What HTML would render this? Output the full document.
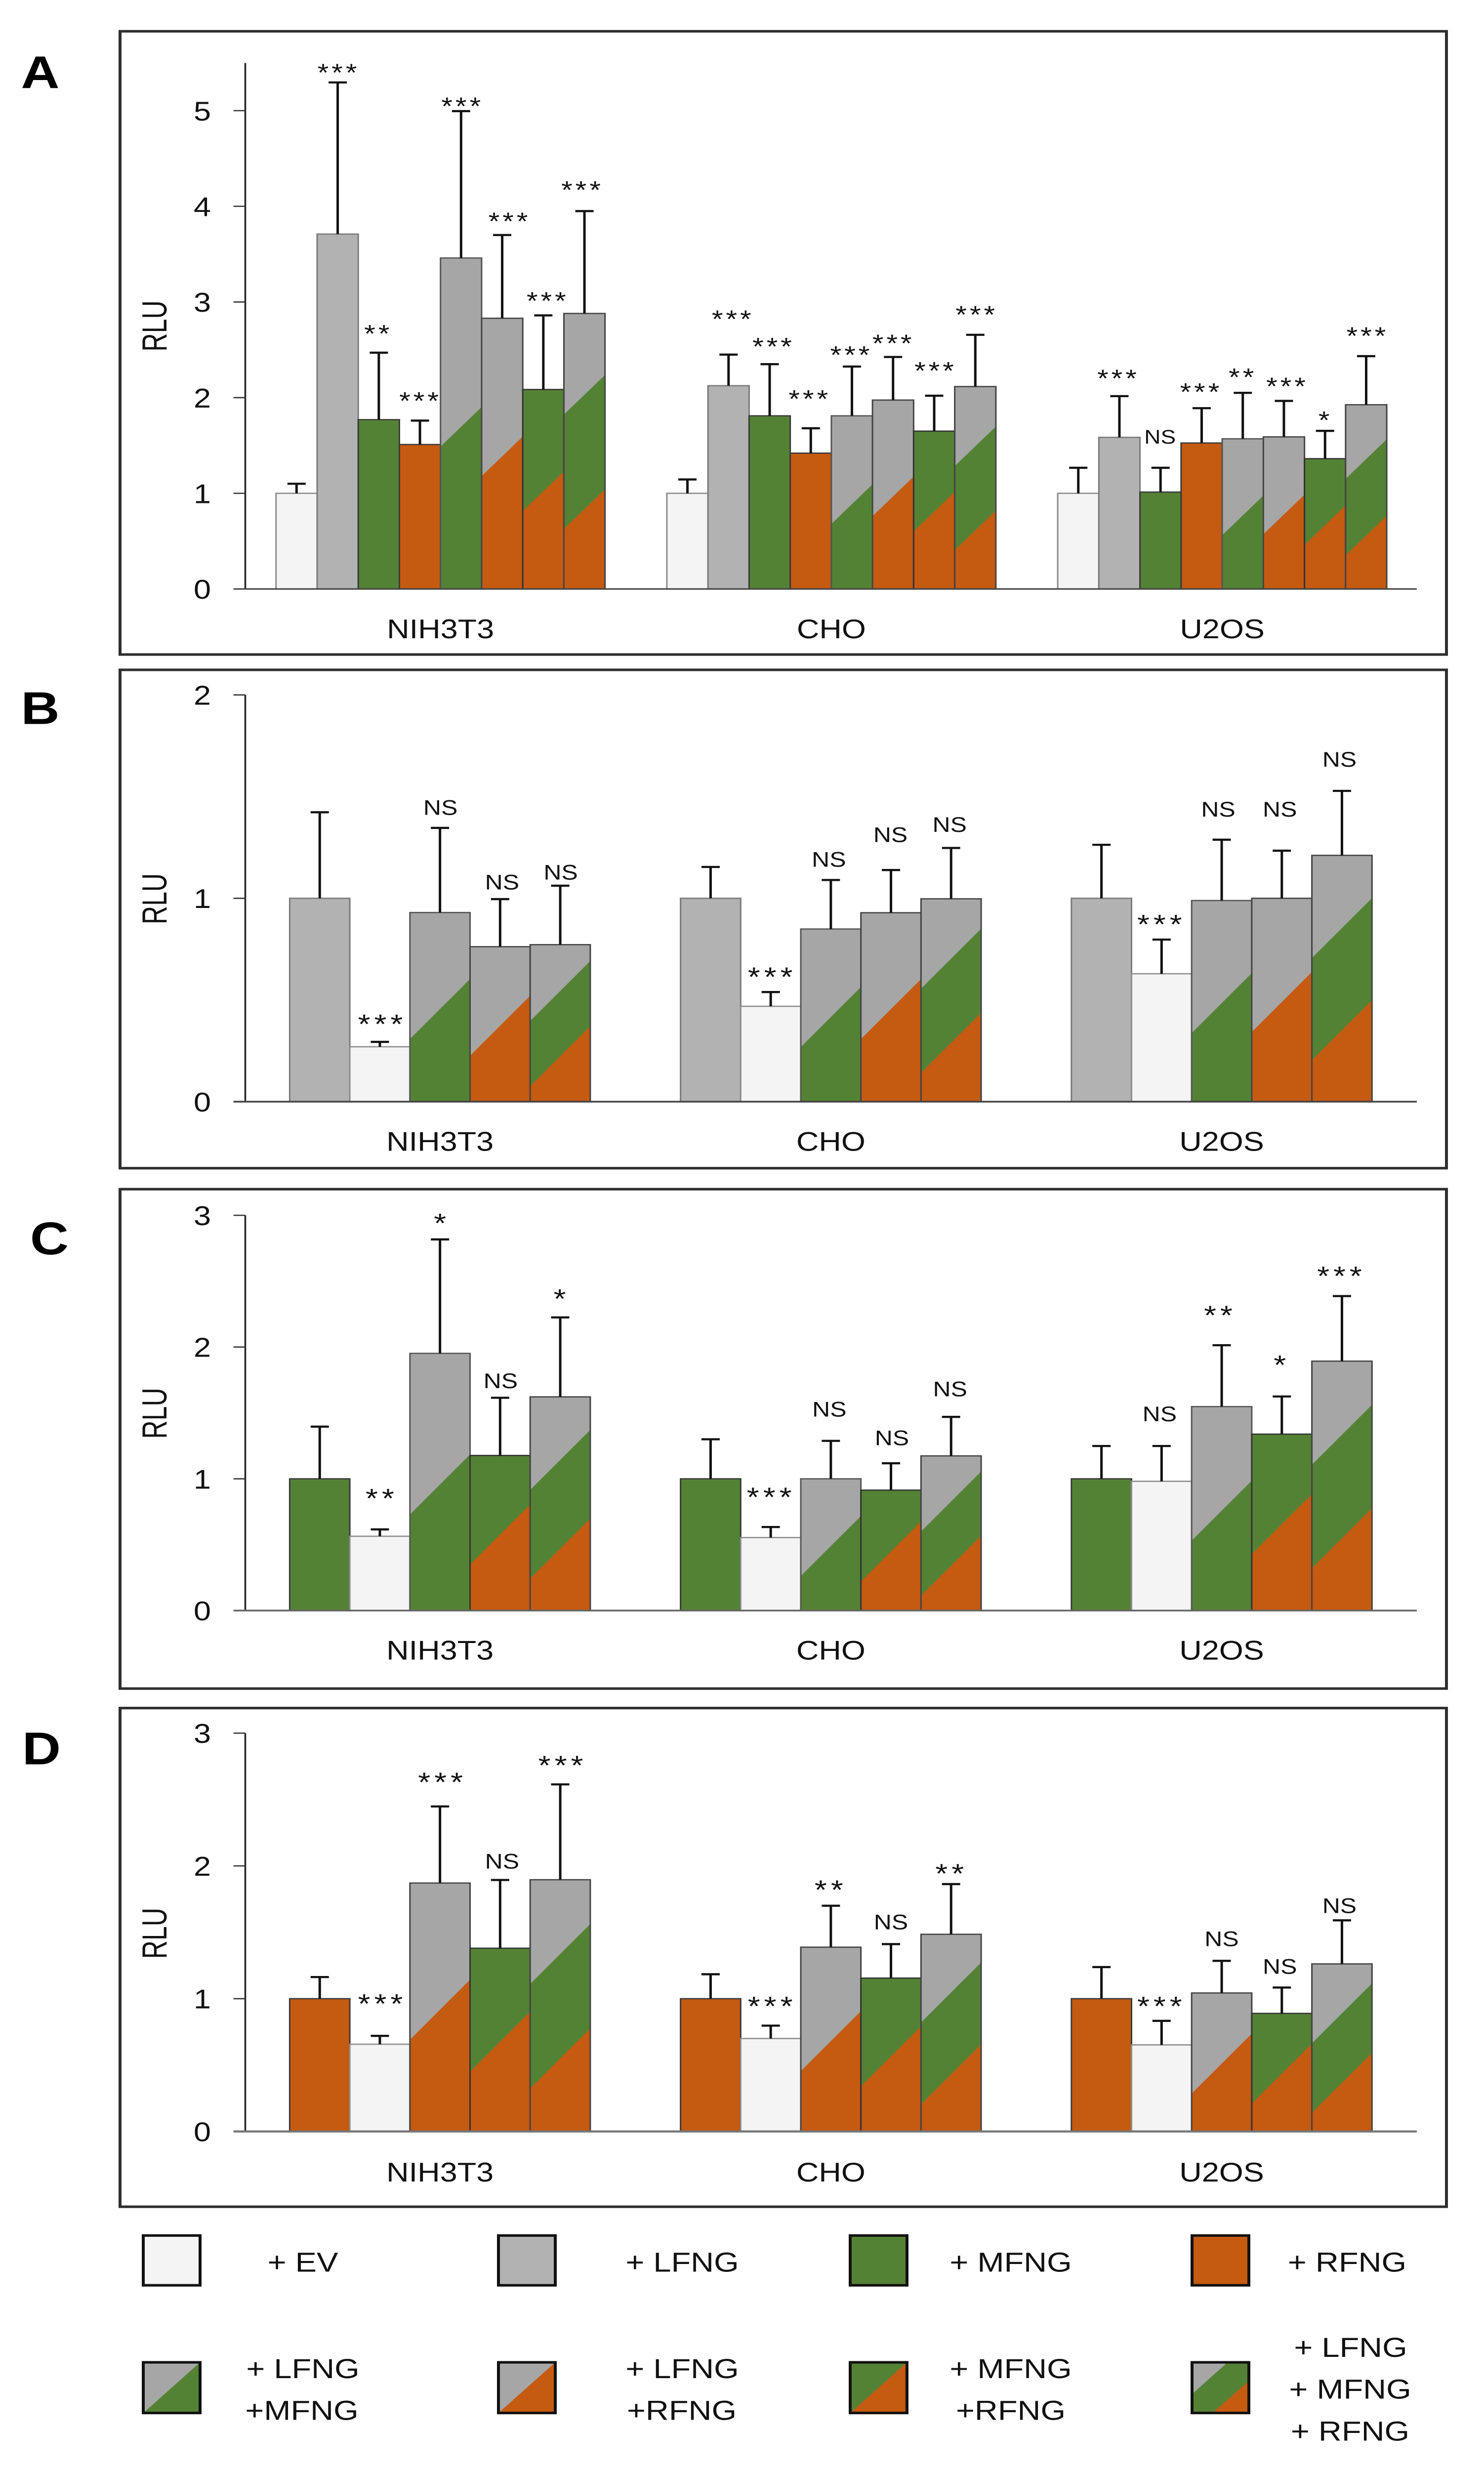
<!DOCTYPE html>
<html lang="en">
<head>
<meta charset="utf-8">
<title>RLU by fringe treatment and cell line</title>
<style>
html,body{margin:0;padding:0;background:#fff;height:100%;overflow:hidden}
svg{display:block;width:100vw;height:100vh;font-family:"Liberation Sans",sans-serif}
</style>
</head>
<body>
<svg id="figure" xmlns="http://www.w3.org/2000/svg" viewBox="0 0 3004 5804" preserveAspectRatio="none">
  <rect x="0" y="0" width="3004" height="5804" fill="#ffffff"/>
  <g id="panels"></g>

  <g font-weight="700" font-size="108" fill="#000" text-anchor="middle">
    <text x="81.5" y="207">A</text>
    <text x="81.5" y="1701">B</text>
    <text x="100" y="2947">C</text>
    <text x="84" y="4146">D</text>
  </g>

  <g font-size="65" fill="#111" text-anchor="middle">
    <g>
      <rect x="290" y="5253" width="115" height="117" fill="#f4f4f4" stroke="#111" stroke-width="6"/>
      <text x="613" y="5338">+ EV</text>
    </g>
    <g>
      <rect x="1009" y="5253" width="115" height="117" fill="#b2b2b2" stroke="#111" stroke-width="6"/>
      <text x="1381" y="5338">+ LFNG</text>
    </g>
    <g>
      <rect x="1721" y="5253" width="115" height="117" fill="#548235" stroke="#111" stroke-width="6"/>
      <text x="2046" y="5338">+ MFNG</text>
    </g>
    <g>
      <rect x="2413" y="5253" width="115" height="117" fill="#c55a11" stroke="#111" stroke-width="6"/>
      <text x="2727" y="5338">+ RFNG</text>
    </g>

    <g>
      <rect x="290" y="5551" width="115" height="119" fill="#a6a6a6"/>
      <polygon points="290,5670 405,5551 405,5670" fill="#548235"/>
      <rect x="290" y="5551" width="115" height="119" fill="none" stroke="#111" stroke-width="6"/>
      <text x="613" y="5588">+ LFNG</text>
      <text x="611" y="5686">+MFNG</text>
    </g>
    <g>
      <rect x="1009" y="5551" width="115" height="119" fill="#a6a6a6"/>
      <polygon points="1009,5670 1124,5551 1124,5670" fill="#c55a11"/>
      <rect x="1009" y="5551" width="115" height="119" fill="none" stroke="#111" stroke-width="6"/>
      <text x="1381" y="5588">+ LFNG</text>
      <text x="1380" y="5686">+RFNG</text>
    </g>
    <g>
      <rect x="1721" y="5551" width="115" height="119" fill="#548235"/>
      <polygon points="1721,5670 1836,5551 1836,5670" fill="#c55a11"/>
      <rect x="1721" y="5551" width="115" height="119" fill="none" stroke="#111" stroke-width="6"/>
      <text x="2046" y="5588">+ MFNG</text>
      <text x="2046" y="5686">+RFNG</text>
    </g>
    <g>
      <rect x="2413" y="5551" width="115" height="119" fill="#a6a6a6"/>
      <polygon points="2413,5625.6 2485,5551 2528,5551 2528,5670 2413,5670" fill="#548235"/>
      <polygon points="2454,5670 2528,5595 2528,5670" fill="#c55a11"/>
      <rect x="2413" y="5551" width="115" height="119" fill="none" stroke="#111" stroke-width="6"/>
      <text x="2734" y="5538">+ LFNG</text>
      <text x="2733" y="5636">+ MFNG</text>
      <text x="2733" y="5735">+ RFNG</text>
    </g>
  </g>
</svg>

<script>
// ---- shared categories ----
const categories = ['NIH3T3', 'CHO', 'U2OS'];

// ---- panel A ----
const panelATicks = [0, 1, 2, 3, 4, 5];
const panelATreatments = ['EV', 'L', 'M', 'R', 'LM', 'LR', 'MR', 'LMR'];
const panelAValues = [
  [1.0, 3.71, 1.77, 1.51, 3.46, 2.83, 2.085, 2.88],
  [1.0, 2.125, 1.81, 1.42, 1.81, 1.975, 1.65, 2.116],
  [1.0, 1.585, 1.013, 1.526, 1.57, 1.59, 1.362, 1.926]
];
const panelAErrors = [
  [0.10, 1.585, 0.70, 0.25, 1.535, 0.87, 0.775, 1.07],
  [0.145, 0.325, 0.54, 0.26, 0.515, 0.45, 0.37, 0.541],
  [0.267, 0.431, 0.254, 0.364, 0.48, 0.376, 0.291, 0.508]
];
const panelASignificance = [
  ['', '***', '**', '***', '***', '***', '***', '***'],
  ['', '***', '***', '***', '***', '***', '***', '***'],
  ['', '***', 'NS', '***', '**', '***', '*', '***']
];
const panelASigGaps = [
  [0, 0.159, 0.254, 0.263, 0.109, 0.2, 0.209, 0.277],
  [0, 0.427, 0.241, 0.363, 0.177, 0.2, 0.318, 0.268],
  [0, 0.241, 0.327, 0.227, 0.222, 0.209, 0.168, 0.268]
];

// ---- panel B ----
const panelBTicks = [0, 1, 2];
const panelBTreatments = ['L', 'EV', 'LM', 'LR', 'LMR'];
const panelBValues = [
  [1.0, 0.27, 0.93, 0.762, 0.772],
  [1.0, 0.469, 0.849, 0.929, 0.9975],
  [1.0, 0.629, 0.989, 1.0, 1.211]
];
const panelBErrors = [
  [0.423, 0.024, 0.416, 0.234, 0.29],
  [0.154, 0.07, 0.241, 0.21, 0.25],
  [0.263, 0.168, 0.299, 0.234, 0.317]
];
const panelBSignificance = [
  ['', '***', 'NS', 'NS', 'NS'],
  ['', '***', 'NS', 'NS', 'NS'],
  ['', '***', 'NS', 'NS', 'NS']
];
const panelBSigGaps = [
  [0, 0.118, 0.102, 0.085, 0.068],
  [0, 0.105, 0.103, 0.175, 0.117],
  [0, 0.105, 0.152, 0.205, 0.157]
];

// ---- panel C ----
const panelCTicks = [0, 1, 2, 3];
const panelCTreatments = ['M', 'EV', 'LM', 'MR', 'LMR'];
const panelCValues = [
  [1.0, 0.564, 1.952, 1.177, 1.622],
  [1.0, 0.554, 1.0, 0.914, 1.174],
  [1.0, 0.981, 1.548, 1.339, 1.893]
];
const panelCErrors = [
  [0.396, 0.052, 0.865, 0.438, 0.603],
  [0.30, 0.08, 0.288, 0.204, 0.296],
  [0.249, 0.268, 0.466, 0.286, 0.494]
];
const panelCSignificance = [
  ['', '**', '*', 'NS', '*'],
  ['', '***', 'NS', 'NS', 'NS'],
  ['', 'NS', '**', '*', '***']
];
const panelCSigGaps = [
  [0, 0.283, 0.17, 0.131, 0.188],
  [0, 0.273, 0.242, 0.196, 0.214],
  [0, 0.247, 0.273, 0.286, 0.198]
];

// ---- panel D ----
const panelDTicks = [0, 1, 2, 3];
const panelDTreatments = ['R', 'EV', 'LR', 'MR', 'LMR'];
const panelDValues = [
  [1.0, 0.657, 1.871, 1.38, 1.896],
  [1.0, 0.70, 1.388, 1.155, 1.485],
  [1.0, 0.652, 1.043, 0.889, 1.262]
];
const panelDErrors = [
  [0.163, 0.063, 0.577, 0.514, 0.718],
  [0.184, 0.097, 0.312, 0.256, 0.378],
  [0.238, 0.181, 0.242, 0.195, 0.328]
];
const panelDSignificance = [
  ['', '***', '***', 'NS', '***'],
  ['', '***', '**', 'NS', '**'],
  ['', '***', 'NS', 'NS', 'NS']
];
const panelDSigGaps = [
  [0, 0.289, 0.23, 0.143, 0.189],
  [0, 0.192, 0.166, 0.169, 0.125],
  [0, 0.156, 0.169, 0.161, 0.112]
];

// ---- layout and styling (not data) ----
const labelNudgeA = [[0, -1, -4, -2, 0, 12, 6, -7], [0, 6, 5, -5, -4, -2, 0, 0], [0, -5, -1, -4, -3, 4, -2, 0]];
const labelNudgeB = [[0, 1, 1, 4, 1], [0, -1, -4, -1, -3], [0, -4, -7, -4, -5]];
const labelNudgeC = [[0, 0, 0, 1, -1], [0, -3, -3, 2, -2], [0, -4, -7, -4, -5]];
const labelNudgeD = [[0, 1, 1, 4, 1], [0, -1, -4, 0, -3], [0, -4, 0, -4, -5]];

const GREY = '#b2b2b2', MIXGREY = '#a6a6a6', GREEN = '#548235', ORANGE = '#c55a11', BLANK = '#f4f4f4';

function treatmentBands(t) {
  if (t === 'EV') return { fills: [BLANK], stroke: '#8c8c8c' };
  if (t === 'L') return { fills: [GREY], stroke: '#7a7a7a' };
  if (t === 'M') return { fills: [GREEN], stroke: '#3a3a3a' };
  if (t === 'R') return { fills: [ORANGE], stroke: '#3a3a3a' };
  if (t === 'LM') return { fills: [MIXGREY, GREEN], splits: [0.49], stroke: '#555' };
  if (t === 'LR') return { fills: [MIXGREY, ORANGE], splits: [0.49], stroke: '#444' };
  if (t === 'MR') return { fills: [GREEN, ORANGE], splits: [0.49], stroke: '#333' };
  return { fills: [MIXGREY, GREEN, ORANGE], splits: [0.705, 0.29], stroke: '#444' };
}

const panelConfigs = [
  { id: 'a', frameTop: 73.5, frameBottom: 1538, y0: 1384, unit: 224.8, axisTop: 148, plotLeft: 558.7, barW: 83.25, rise: 93,
    xBaseline: 1500, rluY: 766, axisColor: '#444', axisW: 3.5, starSize: 58, starSpacing: 6, nsSize: 46,
    ticks: panelATicks, treatments: panelATreatments, values: panelAValues, errors: panelAErrors, sig: panelASignificance, gaps: panelASigGaps, nudge: labelNudgeA },
  { id: 'b', frameTop: 1574, frameBottom: 2745, y0: 2588.7, unit: 477.9, axisTop: 1633, plotLeft: 586.4, barW: 121.7, rise: 141,
    xBaseline: 2704, rluY: 2112, axisColor: '#444', axisW: 4, starSize: 64, starSpacing: 8, nsSize: 50,
    ticks: panelBTicks, treatments: panelBTreatments, values: panelBValues, errors: panelBErrors, sig: panelBSignificance, gaps: panelBSigGaps, nudge: labelNudgeB },
  { id: 'c', frameTop: 2794.3, frameBottom: 3967.8, y0: 3784.5, unit: 309.6, axisTop: 2855.7, plotLeft: 586.4, barW: 121.7, rise: 141,
    xBaseline: 3900, rluY: 3321, axisColor: '#666', axisW: 4, starSize: 64, starSpacing: 8, nsSize: 50,
    ticks: panelCTicks, treatments: panelCTreatments, values: panelCValues, errors: panelCErrors, sig: panelCSignificance, gaps: panelCSigGaps, nudge: labelNudgeC },
  { id: 'd', frameTop: 4013.6, frameBottom: 5185.4, y0: 5008.5, unit: 312, axisTop: 4072.5, plotLeft: 586.4, barW: 121.7, rise: 141,
    xBaseline: 5126, rluY: 4543, axisColor: '#777', axisW: 5, starSize: 64, starSpacing: 8, nsSize: 50,
    ticks: panelDTicks, treatments: panelDTreatments, values: panelDValues, errors: panelDErrors, sig: panelDSignificance, gaps: panelDSigGaps, nudge: labelNudgeD }
];

const NS = 'http://www.w3.org/2000/svg';
function make(tag, attrs, parent, text) {
  const node = document.createElementNS(NS, tag);
  for (const k in attrs) node.setAttribute(k, attrs[k]);
  if (text !== undefined) node.textContent = text;
  parent.appendChild(node);
  return node;
}

function drawPanel(cfg) {
  const root = document.getElementById('panels');
  const yScale = v => cfg.y0 - v * cfg.unit;
  const xScale = (g, b) => cfg.plotLeft + g * 791.2 + b * cfg.barW;

  const panel = make('g', {}, root);
  
  

  const frame = make('rect', { x: 243, y: cfg.frameTop, width: 2685, height: cfg.frameBottom - cfg.frameTop, fill: 'none', stroke: '#2e2e2e', 'stroke-width': 6 }, panel);
  
  

  const barsLayer = make('g', {}, panel);
  
  

  cfg.values.forEach((series, g) => {
    series.forEach((value, b) => {
      const t = cfg.treatments[b];
      const style = treatmentBands(t);
      const x = xScale(g, b), w = cfg.barW, top = yScale(value), bottom = yScale(0);
      const h = bottom - top;
      const barGroup = make('g', {}, barsLayer);
      
      

      const base = make('rect', { x: x, y: top, width: w, height: h, fill: style.fills[0] }, barGroup);
      
      

      (style.splits || []).forEach((frac, i) => {
        const mid = bottom - frac * h;
        const yL = Math.max(top, Math.min(bottom, mid + cfg.rise / 2));
        const yR = Math.max(top, Math.min(bottom, mid - cfg.rise / 2));
        const band = make('polygon', { points: [x, yL, x + w, yR, x + w, bottom, x, bottom].join(' '), fill: style.fills[i + 1] }, barGroup);
        
        
      });

      const outline = make('rect', { x: x, y: top, width: w, height: h, fill: 'none', stroke: style.stroke, 'stroke-width': 3 }, barGroup);
      
      
    });
  });

  const axisLayer = make('g', {}, panel);
  
  

  const yAxis = make('line', { x1: 496.5, x2: 496.5, y1: cfg.axisTop, y2: cfg.y0, stroke: '#222', 'stroke-width': 3.5 }, axisLayer);
  
  

  const xAxis = make('line', { x1: 472.6, x2: 2868, y1: cfg.y0, y2: cfg.y0, stroke: cfg.axisColor, 'stroke-width': cfg.axisW }, axisLayer);
  
  

  cfg.ticks.forEach(tick => {
    const y = yScale(tick);
    if (tick !== 0) {
      const tickMark = make('line', { x1: 472.6, x2: 496.5, y1: y, y2: y, stroke: '#333', 'stroke-width': 3 }, axisLayer);
      
      
    }
    const tickLabel = make('text', { x: 427, y: y + 23, 'text-anchor': 'end', 'font-size': 63, fill: '#111' }, axisLayer, String(tick));
    
    
  });

  const yTitle = make('text', { transform: 'translate(337,' + cfg.rluY + ') rotate(-90) scale(1,1.17)', 'text-anchor': 'middle', 'font-size': 60, fill: '#111' }, axisLayer, 'RLU');
  
  

  categories.forEach((name, g) => {
    const cx = xScale(g, 0) + cfg.barW * cfg.treatments.length / 2;
    const catLabel = make('text', { x: cx, y: cfg.xBaseline, 'text-anchor': 'middle', 'font-size': 63, fill: '#111' }, axisLayer, name);
    
    
  });

  const errLayer = make('g', {}, panel);
  
  

  const sigLayer = make('g', {}, panel);
  
  

  cfg.values.forEach((series, g) => {
    series.forEach((value, b) => {
      const cx = xScale(g, b) + cfg.barW / 2;
      const upper = value + cfg.errors[g][b];
      const yTop = yScale(upper), yBar = yScale(value);

      const stem = make('line', { x1: cx, x2: cx, y1: yBar, y2: yTop, stroke: '#111', 'stroke-width': 5 }, errLayer);
      
      

      const cap = make('line', { x1: cx - 18.5, x2: cx + 18.5, y1: yTop, y2: yTop, stroke: '#111', 'stroke-width': 5 }, errLayer);
      
      

      const mark = cfg.sig[g][b];
      if (mark) {
        const cy = yScale(upper + cfg.gaps[g][b]);
        const lx = cx + cfg.nudge[g][b];
        let sigText;
        if (mark === 'NS') {
          sigText = make('text', { x: lx, y: cy + cfg.nsSize * 0.36, 'text-anchor': 'middle', 'font-size': cfg.nsSize, fill: '#111' }, sigLayer, mark);
        } else {
          sigText = make('text', { x: lx + cfg.starSpacing / 2, y: cy + cfg.starSize * 0.56, 'text-anchor': 'middle', 'font-size': cfg.starSize, 'letter-spacing': cfg.starSpacing, fill: '#111' }, sigLayer, mark);
        }
        
        
      }
    });
  });
}

panelConfigs.forEach(drawPanel);
</script>
</body>
</html>
